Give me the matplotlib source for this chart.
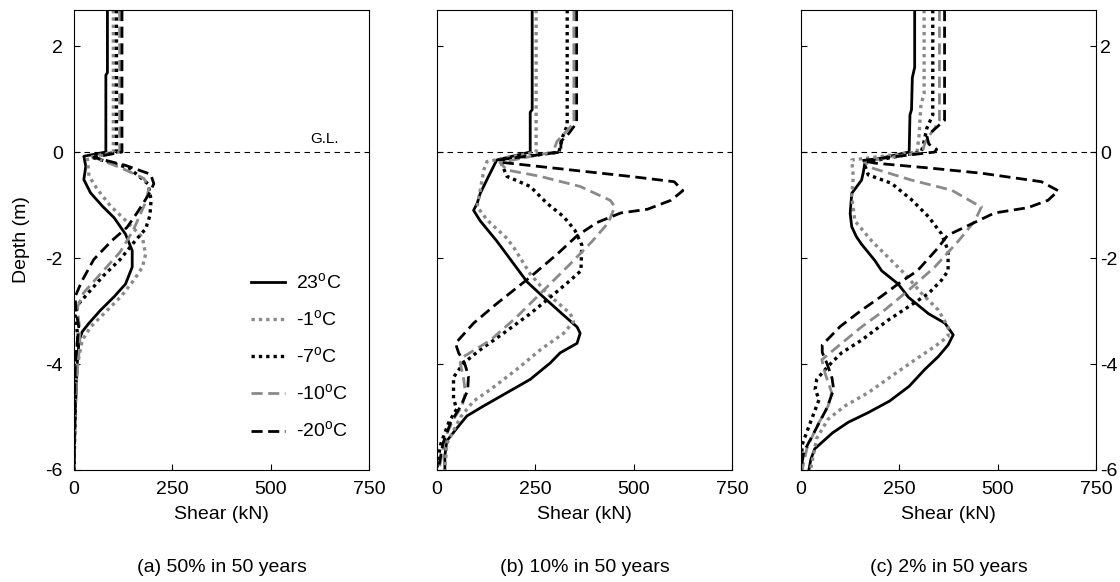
import matplotlib
matplotlib.use('Agg')
import matplotlib.pyplot as plt

plt.rcParams['font.family'] = ['Liberation Sans', 'DejaVu Sans']
plt.rcParams['mathtext.fontset'] = 'custom'
plt.rcParams['mathtext.rm'] = 'Liberation Sans'
plt.rcParams['axes.unicode_minus'] = False
plt.rcParams['font.size'] = 14

labels = ['23$^{\\mathrm{o}}$C', '-1$^{\\mathrm{o}}$C', '-7$^{\\mathrm{o}}$C',
          '-10$^{\\mathrm{o}}$C', '-20$^{\\mathrm{o}}$C']
titles = ['(a) 50% in 50 years', '(b) 10% in 50 years', '(c) 2% in 50 years']

# ---- (a) 50% in 50 years ----
a_23_d = [2.68, 1.5, 1.45, 0.0, -0.08, -0.27, -0.52, -0.77, -1.02, -1.24, -1.55, -1.86, -2.17,
          -2.49, -2.73, -2.98, -3.23, -3.39, -3.55, -4.0, -5.0, -6.0]
a_23_v = [85, 85, 81, 81, 25, 30, 25, 42, 72, 102, 131, 148, 148, 131, 102, 68, 38, 21, 13, 8, 3, 0]
a_m1_d = [2.68, 0.0, -0.11, -0.45, -0.7, -1.02, -1.26, -1.61, -1.93, -2.17, -2.42, -2.73, -3.05,
          -3.3, -3.55, -4.04, -4.67, -5.0, -6.0]
a_m1_v = [100, 100, 34, 38, 59, 93, 127, 174, 182, 174, 152, 119, 76, 42, 21, 8, 4, 1, 0]
a_m7_d = [2.68, 0.0, -0.1, -0.3, -0.6, -0.9, -1.2, -1.45, -1.68, -2.03, -2.34, -2.66, -2.87,
          -3.08, -3.5, -4.0, -6.0]
a_m7_v = [108, 108, 45, 140, 188, 196, 193, 182, 155, 117, 74, 36, 11, 3, 10, 5, 0]
a_m10_d = [2.68, 0.0, -0.1, -0.3, -0.5, -0.7, -0.95, -1.2, -1.47, -1.89, -2.31, -2.66, -2.94,
           -3.3, -3.6, -4.0, -4.5, -5.0, -6.0]
a_m10_v = [116, 116, 50, 120, 178, 190, 182, 167, 151, 117, 66, 24, 8, 14, 15, 10, 5, 0, 0]
a_m20_d = [2.68, 0.0, -0.1, -0.25, -0.42, -0.6, -0.8, -1.14, -1.42, -1.68, -2.03, -2.45, -2.73,
           -3.0, -3.3, -3.6, -4.0, -6.0]
a_m20_v = [122, 122, 50, 130, 195, 203, 190, 161, 135, 95, 50, 19, 3, 5, 12, 8, 3, 0]

# ---- (b) 10% in 50 years ----
b_23_d = [2.68, 0.8, 0.75, 0.0, -0.15, -0.46, -0.78, -0.97, -1.1, -1.3, -1.68, -2.11, -2.45,
          -2.74, -3.08, -3.3, -3.42, -3.61, -3.79, -3.98, -4.29, -4.54, -4.79, -4.98, -5.17,
          -5.45, -5.73, -6.0]
b_23_v = [242, 242, 237, 237, 152, 131, 110, 102, 93, 110, 152, 195, 229, 271, 322, 356, 364,
          356, 313, 288, 237, 178, 119, 76, 55, 25, 20, 20]
b_m1_d = [2.68, 0.0, -0.18, -0.34, -0.72, -1.03, -1.28, -1.63, -1.8, -2.3, -2.67, -3.05, -3.2,
          -3.42, -3.73, -4.1, -4.48, -4.7, -5.0, -5.5, -6.0]
b_m1_v = [252, 252, 127, 119, 110, 102, 127, 178, 195, 237, 280, 339, 347, 322, 263, 203, 136,
          93, 60, 25, 20]
b_m7_d = [2.68, 0.5, 0.3, 0.0, -0.15, -0.46, -0.65, -0.97, -1.22, -1.47, -1.75, -2.24, -2.42,
          -2.74, -3.05, -3.42, -3.73, -3.98, -4.25, -4.65, -4.85, -5.1, -5.5, -5.8, -6.0]
b_m7_v = [331, 331, 320, 310, 160, 178, 237, 280, 322, 350, 368, 366, 339, 288, 237, 169, 110,
          68, 42, 42, 50, 30, 10, 2, 0]
b_m10_d = [2.68, 0.55, 0.4, 0.2, 0.0, -0.2, -0.34, -0.46, -0.65, -0.91, -1.03, -1.33, -1.68,
           -2.11, -2.61, -3.11, -3.55, -3.86, -3.98, -4.29, -4.54, -4.79, -5.04, -5.4, -6.0]
b_m10_v = [348, 348, 330, 305, 295, 160, 178, 263, 364, 440, 452, 436, 395, 339, 271, 203, 136,
           68, 59, 68, 72, 64, 42, 20, 5]
b_m20_d = [2.68, 0.55, 0.35, 0.2, 0.0, -0.15, -0.2, -0.46, -0.56, -0.73, -0.91, -1.08, -1.15,
           -1.33, -1.58, -1.93, -2.36, -2.86, -3.23, -3.61, -3.79, -3.98, -4.23, -4.5, -4.8,
           -5.1, -5.5, -6.0]
b_m20_v = [355, 355, 335, 315, 315, 155, 170, 491, 603, 625, 595, 535, 467, 407, 356, 305, 237,
           152, 93, 47, 55, 70, 80, 78, 60, 35, 15, 3]

# ---- (c) 2% in 50 years ----
c_23_d = [2.68, 1.6, 1.4, 0.8, 0.7, 0.0, -0.18, -0.4, -0.53, -0.78, -1.16, -1.41, -1.6, -1.74,
          -2.05, -2.24, -2.49, -2.74, -3.05, -3.23, -3.45, -3.64, -3.86, -4.1, -4.42, -4.7,
          -4.92, -5.1, -5.3, -5.5, -5.6, -5.8, -6.0]
c_23_v = [289, 289, 283, 281, 277, 275, 163, 158, 154, 129, 125, 129, 141, 154, 188, 205, 247,
          273, 324, 366, 387, 374, 349, 315, 275, 225, 170, 120, 80, 50, 35, 25, 20]
c_m1_d = [2.68, 1.1, 0.9, 0.3, 0.0, -0.15, -0.46, -0.84, -1.3, -1.68, -1.99, -2.3, -2.67, -2.98,
          -3.3, -3.48, -3.67, -3.92, -4.23, -4.54, -4.79, -5.04, -5.4, -6.0]
c_m1_v = [313, 313, 305, 300, 295, 129, 133, 129, 137, 180, 222, 264, 307, 349, 374, 374, 340,
          290, 230, 171, 112, 69, 40, 24]
c_m7_d = [2.68, 0.7, 0.45, 0.1, 0.0, -0.2, -0.43, -0.59, -0.9, -1.22, -1.54, -1.86, -2.24, -2.42,
          -2.67, -2.92, -3.17, -3.55, -3.79, -4.04, -4.29, -4.48, -4.67, -5.1, -5.52, -6.0]
c_m7_v = [335, 335, 320, 310, 305, 160, 171, 230, 281, 324, 357, 374, 374, 357, 324, 273, 222,
          154, 103, 69, 40, 36, 46, 24, 3, 0]
c_m10_d = [2.68, 0.6, 0.45, 0.25, 0.1, 0.0, -0.18, -0.3, -0.53, -0.72, -0.97, -1.03, -1.3, -1.68,
           -2.17, -2.61, -2.98, -3.3, -3.61, -3.92, -4.17, -4.54, -4.79, -5.17, -5.59, -6.0]
c_m10_v = [352, 352, 340, 320, 312, 310, 160, 180, 281, 383, 442, 459, 442, 400, 340, 273, 213,
           154, 103, 53, 61, 78, 69, 41, 15, 3]
c_m20_d = [2.68, 0.6, 0.3, 0.15, 0.05, 0.0, -0.16, -0.21, -0.3, -0.4, -0.56, -0.73, -0.91, -1.05,
           -1.15, -1.33, -1.57, -1.82, -2.24, -2.45, -2.73, -3.0, -3.29, -3.64, -3.78, -3.99,
           -4.27, -4.48, -4.83, -5.31, -5.66, -6.0]
c_m20_v = [365, 365, 320, 325, 345, 340, 155, 188, 324, 459, 611, 654, 628, 577, 492, 441, 373,
           347, 296, 254, 203, 151, 100, 54, 54, 66, 79, 83, 66, 32, 7, 0]

GRAY = '#8a8a8a'
styles = [
    dict(color='black', linestyle='-', lw=2.0),
    dict(color=GRAY, linestyle=(0, (1, 1.2)), lw=2.4),
    dict(color='black', linestyle=(0, (1, 1.2)), lw=2.4),
    dict(color=GRAY, linestyle=(0, (4, 2)), lw=2.0),
    dict(color='black', linestyle=(0, (4, 2)), lw=2.0),
]

panels = [
    [(a_23_v, a_23_d), (a_m1_v, a_m1_d), (a_m7_v, a_m7_d), (a_m10_v, a_m10_d), (a_m20_v, a_m20_d)],
    [(b_23_v, b_23_d), (b_m1_v, b_m1_d), (b_m7_v, b_m7_d), (b_m10_v, b_m10_d), (b_m20_v, b_m20_d)],
    [(c_23_v, c_23_d), (c_m1_v, c_m1_d), (c_m7_v, c_m7_d), (c_m10_v, c_m10_d), (c_m20_v, c_m20_d)],
]

fig = plt.figure(figsize=(11.2, 5.82), dpi=100)
lefts = [74 / 1120, 437 / 1120, 801 / 1120]
W = 295 / 1120
B = (582 - 470) / 582
H = 460 / 582

for i, curves in enumerate(panels):
    ax = fig.add_axes([lefts[i], B, W, H])
    ax.axhline(0, color='black', lw=0.8, linestyle=(0, (5, 4)))
    for (v, d), st, lab in zip(curves, styles, labels):
        ax.plot(v, d, label=lab, **st)
    ax.set_xlim(0, 750)
    ax.set_ylim(-6, 2.68)
    ax.set_xticks([0, 250, 500, 750])
    ax.set_yticks([-6, -4, -2, 0, 2])
    ax.tick_params(direction='in', length=4, width=0.8, pad=8, labelsize=14)
    for s in ax.spines.values():
        s.set_linewidth(0.8)
    ax.set_xlabel('Shear (kN)', fontsize=14, labelpad=6)
    if i == 0:
        ax.set_ylabel('Depth (m)', fontsize=14)
        ax.yaxis.set_label_coords(-0.15, 0.5)
        ax.text(637, 0.25, 'G.L.', fontsize=11, ha='center', va='center')
        ax.legend(loc='lower left', bbox_to_anchor=(0.60, 0.062), frameon=False,
                  borderpad=0, borderaxespad=0, handlelength=1.75, handletextpad=0.55,
                  labelspacing=0.85, fontsize=14)
    elif i == 1:
        ax.tick_params(axis='y', labelleft=False)
    else:
        ax.tick_params(axis='y', left=True, right=True, labelleft=False, labelright=True, pad=3)
    fig.text(lefts[i] + W / 2, (582 - 568) / 582, titles[i], ha='center', va='center', fontsize=14)

fig.savefig('out.png', dpi=100)
